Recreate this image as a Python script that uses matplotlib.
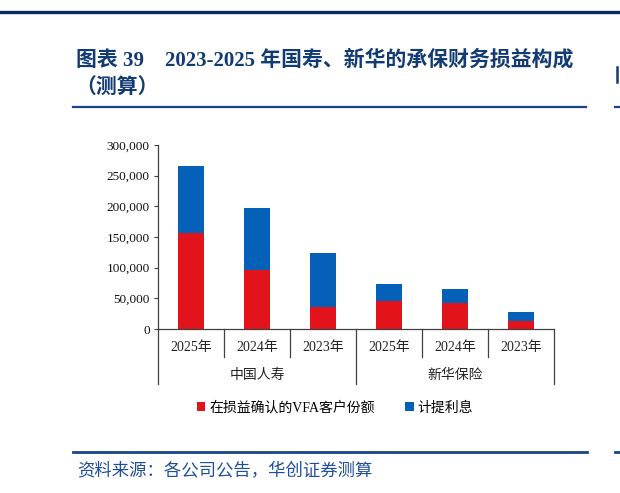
import matplotlib
matplotlib.use("Agg")
import matplotlib.pyplot as plt
from matplotlib.lines import Line2D
from matplotlib.patches import Patch
from matplotlib.ticker import FuncFormatter

years = ["2025年", "2024年", "2023年", "2025年", "2024年", "2023年"]
groups = ["中国人寿", "新华保险"]
vfa_share = [156000, 97000, 36000, 46000, 42000, 13000]
interest = [110000, 100000, 88000, 27000, 23000, 15000]
series_names = ["在损益确认的VFA客户份额", "计提利息"]

RED = "#E3131B"
BLUE = "#0560B8"
NAVY = "#123A73"
FONT = ["Liberation Serif", "Noto Sans CJK SC"]

W, H = 620, 493
fig = plt.figure(figsize=(W / 100, H / 100), dpi=100)
plt.rcParams["font.family"] = FONT


def fx(px):
    return px / W


def fy(py):
    return 1 - py / H


# header / footer decorations
fig.add_artist(Line2D([0, 1], [fy(12), fy(12)], color="#0B2A5C", lw=2.4))
fig.add_artist(Line2D([fx(73), fx(586)], [fy(107), fy(107)], color="#1A4585", lw=1.6))
fig.add_artist(Line2D([fx(615), fx(620)], [fy(107), fy(107)], color="#1A4585", lw=1.6))
fig.add_artist(Line2D([fx(73), fx(587)], [fy(452), fy(452)], color="#1A4585", lw=2.0))
fig.add_artist(Line2D([fx(615), fx(620)], [fy(452), fy(452)], color="#1A4585", lw=2.0))
# cut-off edge of the neighbouring column's heading
fig.add_artist(Line2D([fx(616.5), fx(616.5)], [fy(67), fy(82)], color=NAVY, lw=1.8))

fig.text(fx(76), fy(60), "图表 39    2023-2025 年国寿、新华的承保财务损益构成",
         fontsize=15, fontweight="bold", color=NAVY, va="center", ha="left",
         family=FONT)
fig.text(fx(75), fy(89), "（测算）", fontsize=15, fontweight="bold",
         color=NAVY, va="center", ha="left", family=FONT)
fig.text(fx(77), fy(472), "资料来源：各公司公告，华创证券测算", fontsize=12.5,
         style="italic", color="#1F4E9A", va="center", ha="left", family=FONT)

# axes
ax = fig.add_axes([fx(158), fy(329), fx(554) - fx(158), (329 - 145) / H])
x = list(range(len(years)))
b1 = ax.bar(x, vfa_share, width=0.39, color=RED, label=series_names[0])
b2 = ax.bar(x, interest, width=0.39, bottom=vfa_share, color=BLUE,
            label=series_names[1])

ax.set_xlim(-0.5, len(years) - 0.5)
ax.set_ylim(0, 300000)
ax.set_yticks(range(0, 300001, 50000))
ax.yaxis.set_major_formatter(FuncFormatter(lambda v, p: f"{int(v):,}"))
for s in ["top", "right"]:
    ax.spines[s].set_visible(False)
for s in ["left", "bottom"]:
    ax.spines[s].set_color("#404040")
    ax.spines[s].set_linewidth(0.9)
ax.tick_params(axis="y", direction="out", length=3, width=0.8, color="#404040",
               labelsize=9.5, pad=3, labelcolor="#111111")
ax.set_xticks([])
for lab in ax.get_yticklabels():
    lab.set_family(FONT)

# multi-level category axis
tr = ax.get_xaxis_transform()
for i, yl in enumerate(years):
    ax.text(i, -0.103, yl, transform=tr, ha="center", va="center",
            fontsize=10, color="#222222", family=FONT)
for g, name in enumerate(groups):
    ax.text(g * 3 + 1, -0.25, name, transform=tr, ha="center", va="center",
            fontsize=10, color="#222222", family=FONT)
for b in [0.5, 1.5, 3.5, 4.5]:
    ax.add_artist(Line2D([b, b], [0, -0.152], transform=tr, color="#404040",
                         lw=0.9, clip_on=False))
for b in [-0.5, 2.5, 5.5]:
    ax.add_artist(Line2D([b, b], [0, -0.299], transform=tr, color="#404040",
                         lw=0.9, clip_on=False))

handles = [Patch(facecolor=RED), Patch(facecolor=BLUE)]
fig.legend(handles, series_names, loc="center", bbox_to_anchor=(fx(335), fy(408)),
           ncol=2, frameon=False, handlelength=0.6, handleheight=0.6,
           handletextpad=0.3, columnspacing=2.2, prop={"family": FONT, "size": 10})

fig.savefig("out.png", dpi=100)
